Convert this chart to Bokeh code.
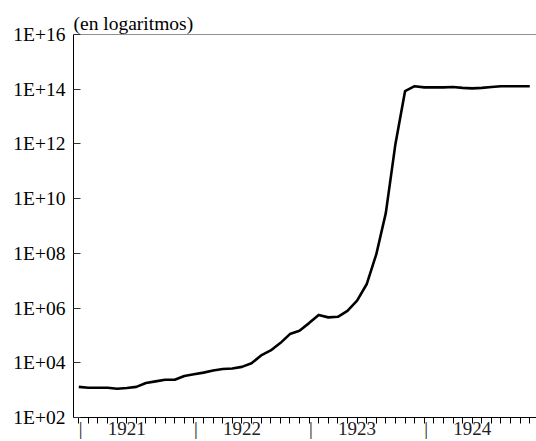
from bokeh.plotting import figure
from bokeh.models import (FixedTicker, CustomJSTickFormatter, Span,
                          ColumnDataSource, Range1d)
from bokeh.embed import file_html
from bokeh.resources import INLINE

# ---------------- data ----------------
years = ["1921", "1922", "1923", "1924"]
months = [f"{y}-{m:02d}" for y in years for m in range(1, 13)]

price_index = [
    1.32e3, 1.23e3, 1.23e3, 1.23e3, 1.12e3, 1.20e3,
    1.32e3, 1.82e3, 2.09e3, 2.40e3, 2.40e3, 3.31e3,
    3.80e3, 4.37e3, 5.25e3, 5.89e3, 6.17e3, 7.08e3,
    9.55e3, 1.86e4, 2.82e4, 5.25e4, 1.12e5, 1.48e5,
    2.82e5, 5.62e5, 4.57e5, 4.79e5, 7.94e5, 1.86e6,
    7.41e6, 9.12e7, 3.02e9, 1.00e12, 8.50e13, 1.29e14,
    1.17e14, 1.17e14, 1.17e14, 1.20e14, 1.12e14, 1.07e14,
    1.12e14, 1.20e14, 1.29e14, 1.29e14, 1.29e14, 1.29e14,
]

y_ticks = [1e2, 1e4, 1e6, 1e8, 1e10, 1e12, 1e14, 1e16]
title_text = "(en logaritmos)"
separator = "|"

# ---------------- figure ----------------
x = list(range(len(months)))
src = ColumnDataSource(dict(x=x, y=price_index, month=months))

FONT = "Liberation Serif"

p = figure(width=536, height=441, y_axis_type="log",
           x_range=Range1d(-0.55, 47.7), y_range=Range1d(1e2, 1e16),
           output_backend="svg", toolbar_location=None,
           min_border_left=73, min_border_top=34,
           min_border_right=0, min_border_bottom=0)

p.title.text = title_text
p.title.text_font = FONT
p.title.text_font_size = "19.5px"
p.title.text_font_style = "normal"
p.title.text_color = "black"
p.title.align = "left"
p.title.standoff = 1
p.title.offset = 0

p.outline_line_color = None
p.xgrid.visible = False
p.ygrid.visible = False
p.background_fill_color = "white"
p.border_fill_color = "white"

p.line("x", "y", source=src, line_color="black", line_width=2.6,
       line_join="round")

# top frame line
p.add_layout(Span(location=1e16, dimension="width",
                  line_color="#222222", line_width=1))

# x axis: year separators at year starts, year labels mid-year,
# monthly minor ticks
xa = p.xaxis[0]
sep_pos = [12 * k + 0.2 for k in range(len(years))]
label_pos = [12 * k + 5 for k in range(len(years))]
xa.ticker = FixedTicker(ticks=sorted(sep_pos + label_pos), minor_ticks=x)
overrides = {pos: separator for pos in sep_pos}
overrides.update({pos: yr for pos, yr in zip(label_pos, years)})
xa.major_label_overrides = overrides
xa.major_tick_out = 0
xa.major_tick_in = 0
xa.minor_tick_out = 6
xa.minor_tick_in = 0
xa.minor_tick_line_color = "black"
xa.axis_line_color = "black"
xa.major_label_standoff = -6
xa.major_label_text_font = FONT
xa.major_label_text_font_size = "19px"
xa.major_label_text_color = "#222222"

# y axis
ya = p.yaxis[0]
ya.ticker = FixedTicker(ticks=y_ticks)
ya.formatter = CustomJSTickFormatter(code="""
    const e = Math.round(Math.log10(tick));
    return "1E+" + (e < 10 ? "0" + e : "" + e);
""")
ya.major_tick_in = 7
ya.major_tick_out = 0
ya.minor_tick_line_color = None
ya.major_tick_line_color = "#333333"
ya.axis_line_color = "black"
ya.major_label_standoff = 8
ya.major_label_text_font = FONT
ya.major_label_text_font_size = "19.5px"
ya.major_label_text_color = "black"

open("out.html", "w").write(file_html(p, INLINE))
